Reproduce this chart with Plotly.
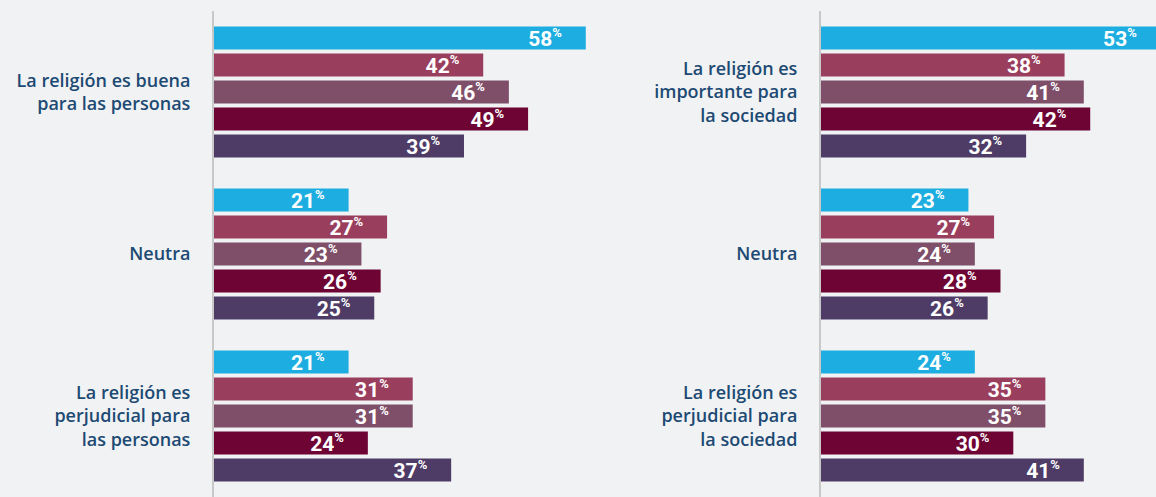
import plotly.graph_objects as go

# ---- data ----
left_categories = ["La religión es buena<br>para las personas", "Neutra",
                   "La religión es<br>perjudicial para<br>las personas"]
right_categories = ["La religión es<br>importante para<br>la sociedad", "Neutra",
                    "La religión es<br>perjudicial para<br>la sociedad"]
series_names = ["Serie 1", "Serie 2", "Serie 3", "Serie 4", "Serie 5"]
left_values = [
    [58, 21, 21],
    [42, 27, 31],
    [46, 23, 31],
    [49, 26, 24],
    [39, 25, 37],
]
right_values = [
    [53, 23, 24],
    [38, 27, 35],
    [41, 24, 35],
    [42, 28, 30],
    [32, 26, 41],
]
colors = ["#1eade0", "#9a3e5e", "#7f4f69", "#6e0434", "#4e3c66"]

BG = "#f1f2f4"
LABEL_COLOR = "#1d4a73"
PAD = "\u00a0" * 4

def label(v):
    return f"{v}<sup><span style='font-size:13px'>%</span></sup>{PAD}"

fig = go.Figure()
for i, name in enumerate(series_names):
    for vals, cats, xa, ya in [(left_values[i], left_categories, "x", "y"),
                               (right_values[i], right_categories, "x2", "y2")]:
        fig.add_trace(go.Bar(
            x=vals, y=cats, orientation="h", name=name,
            marker=dict(color=colors[i], line=dict(width=0)),
            text=[label(v) for v in vals],
            textposition="inside", insidetextanchor="end",
            constraintext="none",
            textfont=dict(family="Roboto", size=21, color="white", weight=700),
            hoverinfo="skip", showlegend=False,
            xaxis=xa, yaxis=ya,
        ))

px_per_unit = 6.41
W = 1156
left_d0 = 214 / W
left_d1 = 0.62
right_d0 = 821 / W

tickfont = dict(family="Open Sans", size=18, color=LABEL_COLOR, weight=600)

fig.update_layout(
    width=W, height=497,
    margin=dict(l=0, r=0, t=11, b=0),
    paper_bgcolor=BG, plot_bgcolor=BG,
    barmode="group", bargap=0.1667, bargroupgap=0.148,
    xaxis=dict(domain=[left_d0, left_d1], range=[0, (left_d1 - left_d0) * W / px_per_unit],
               visible=False, fixedrange=True),
    xaxis2=dict(domain=[right_d0, 1], range=[0, (1 - right_d0) * W / px_per_unit],
                visible=False, fixedrange=True),
    yaxis=dict(anchor="x", type="category", categoryarray=left_categories,
               range=[2.5, -0.5], showline=True, linecolor="#c8c8c8", linewidth=2,
               showgrid=False, zeroline=False, ticks="", ticklabelstandoff=18,
               tickfont=tickfont, fixedrange=True),
    yaxis2=dict(anchor="x2", type="category", categoryarray=right_categories,
                range=[2.5, -0.5], showline=True, linecolor="#c8c8c8", linewidth=2,
                showgrid=False, zeroline=False, ticks="", ticklabelstandoff=18,
                tickfont=tickfont, fixedrange=True),
)

fig.write_html("out.html", config={"displayModeBar": False},
               post_script="document.body.style.margin='0';")
